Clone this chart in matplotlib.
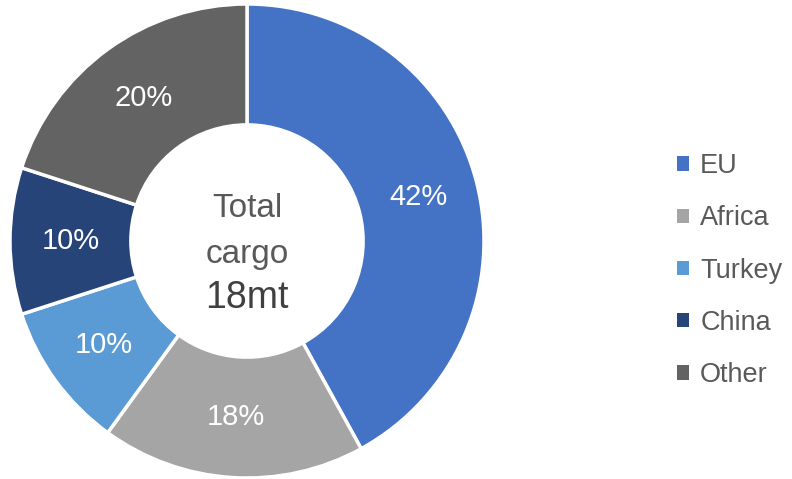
import matplotlib
matplotlib.use("Agg")
import matplotlib.pyplot as plt
from matplotlib.patches import Patch

labels = ["EU", "Africa", "Turkey", "China", "Other"]
shares = [42, 18, 10, 10, 20]
colors = ["#4472C4", "#A5A5A5", "#5B9BD5", "#264478", "#636363"]

plt.rcParams['font.family'] = ['Liberation Sans', 'DejaVu Sans']

fig = plt.figure(figsize=(7.92, 4.79), dpi=100)
ax = fig.add_axes([(247 - 237) / 792, (479 - 241 - 237) / 479, 474 / 792, 474 / 479])

wedges, texts, autotexts = ax.pie(
    shares, colors=colors, startangle=90, counterclock=False,
    radius=1.0, autopct='%d%%', pctdistance=0.745,
    wedgeprops=dict(width=0.51, edgecolor='white', linewidth=2.5),
    textprops=dict(color='white', fontsize=21))
ax.set_xlim(-1, 1)
ax.set_ylim(-1, 1)
ax.set_aspect('equal')

# texte au centre du donut
ax.text(0, 0.101, "Total", ha='center', va='baseline', fontsize=24, color='#595959')
ax.text(0, -0.093, "cargo", ha='center', va='baseline', fontsize=24, color='#595959')
ax.text(0, -0.283, "18mt", ha='center', va='baseline', fontsize=27, color='#404040')

handles = [Patch(facecolor=c, edgecolor='none') for c in colors]
fig.legend(handles, labels, loc='center left', bbox_to_anchor=(0.8246, 0.435),
           frameon=False, fontsize=19.5, handlelength=0.44, handleheight=0.44,
           handletextpad=0.4, labelspacing=0.97, labelcolor='#595959')

fig.savefig("out.png", dpi=100)
